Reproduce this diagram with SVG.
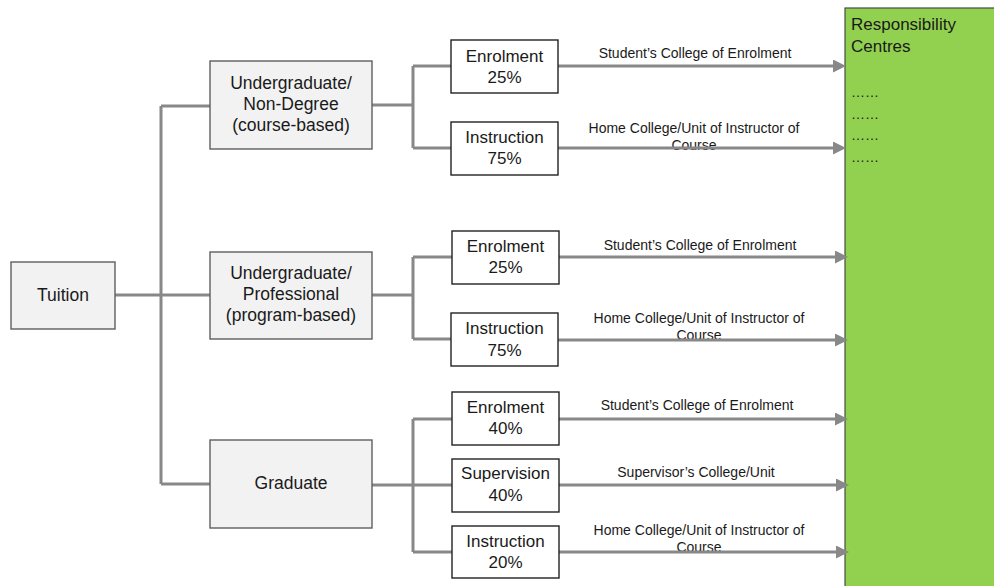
<svg xmlns="http://www.w3.org/2000/svg" width="994" height="586" viewBox="0 0 994 586">
<defs>
<style>
text{font-family:"Liberation Sans",Arial,sans-serif;fill:#1a1a1a}
.t1{font-size:17.5px;text-anchor:middle}
.t2{font-size:17px;text-anchor:middle}
.lbl{font-size:14px;text-anchor:middle}
.rc{font-size:17px}
.dots{font-size:14px}
.grey{fill:#f2f2f2;stroke:#5f5f5f;stroke-width:1.4}
.white{fill:#ffffff;stroke:#222;stroke-width:1.4}
.conn{fill:none;stroke:#888888;stroke-width:3}
.arr{fill:none;stroke:#888888;stroke-width:3;marker-end:url(#ah)}
</style>
<marker id="ah" markerUnits="userSpaceOnUse" markerWidth="13" markerHeight="13" refX="0" refY="6.5" orient="auto">
<path d="M0,0 L13,6.5 L0,13 z" fill="#888888"/>
</marker>
</defs>
<rect width="994" height="586" fill="#ffffff"/>

<g id="responsibility-centres">
<rect x="845" y="8" width="152" height="582" fill="#92d050" stroke="#4a4a4a" stroke-width="1.2"/>
<text class="rc" x="851" y="30">Responsibility</text>
<text class="rc" x="851" y="52">Centres</text>
<text class="dots" x="851" y="97">……</text>
<text class="dots" x="851" y="119">……</text>
<text class="dots" x="851" y="140">……</text>
<text class="dots" x="851" y="162">……</text>
</g>

<g id="labels">
<text class="lbl" x="695" y="58">Student’s College of Enrolment</text>
<text class="lbl" x="694" y="133">Home College/Unit of Instructor of</text>
<text class="lbl" x="694" y="150">Course</text>
<text class="lbl" x="700" y="250">Student’s College of Enrolment</text>
<text class="lbl" x="699" y="323">Home College/Unit of Instructor of</text>
<text class="lbl" x="699" y="340">Course</text>
<text class="lbl" x="697" y="410">Student’s College of Enrolment</text>
<text class="lbl" x="696" y="477">Supervisor’s College/Unit</text>
<text class="lbl" x="699" y="535">Home College/Unit of Instructor of</text>
<text class="lbl" x="699" y="552">Course</text>
</g>

<g id="connectors">
<path class="conn" d="M115,295 H210 M161,106 V484 M161,106 H210 M161,484 H210"/>
<path class="conn" d="M372,105 H413 M413,66 V148 M413,66 H451 M413,148 H451"/>
<path class="conn" d="M372,295 H413 M413,257 V339 M413,257 H452 M413,339 H451"/>
<path class="conn" d="M372,485 H452 M413,419 V552 M413,419 H452 M413,552 H452"/>
<path class="arr" d="M558,66 H833"/>
<path class="arr" d="M558,148 H833"/>
<path class="arr" d="M559,257 H835"/>
<path class="arr" d="M558,340 H835"/>
<path class="arr" d="M559,419 H835"/>
<path class="arr" d="M559,485 H836"/>
<path class="arr" d="M559,552 H836"/>
</g>

<g id="tuition">
<rect class="grey" x="11" y="262" width="104" height="67"/>
<text class="t1" x="63" y="301">Tuition</text>
</g>

<g id="ug-non-degree">
<rect class="grey" x="210" y="61" width="162" height="88"/>
<text class="t1" x="291" y="89">Undergraduate/</text>
<text class="t1" x="291" y="110">Non-Degree</text>
<text class="t1" x="291" y="131">(course-based)</text>
</g>

<g id="ug-professional">
<rect class="grey" x="210" y="252" width="162" height="87"/>
<text class="t1" x="291" y="279">Undergraduate/</text>
<text class="t1" x="291" y="300">Professional</text>
<text class="t1" x="291" y="321">(program-based)</text>
</g>

<g id="graduate">
<rect class="grey" x="210" y="440" width="162" height="88"/>
<text class="t1" x="291" y="489">Graduate</text>
</g>

<g id="ug1-enrolment">
<rect class="white" x="451" y="40" width="107" height="53"/>
<text class="t2" x="504.5" y="62">Enrolment</text>
<text class="t2" x="504.5" y="83">25%</text>
</g>
<g id="ug1-instruction">
<rect class="white" x="451" y="122" width="107" height="53"/>
<text class="t2" x="504.5" y="143">Instruction</text>
<text class="t2" x="504.5" y="164">75%</text>
</g>
<g id="ug2-enrolment">
<rect class="white" x="452" y="231" width="107" height="53"/>
<text class="t2" x="505.5" y="252">Enrolment</text>
<text class="t2" x="505.5" y="273">25%</text>
</g>
<g id="ug2-instruction">
<rect class="white" x="451" y="313" width="107" height="53"/>
<text class="t2" x="504.5" y="334">Instruction</text>
<text class="t2" x="504.5" y="356">75%</text>
</g>
<g id="grad-enrolment">
<rect class="white" x="452" y="392" width="107" height="53"/>
<text class="t2" x="505.5" y="413">Enrolment</text>
<text class="t2" x="505.5" y="434">40%</text>
</g>
<g id="grad-supervision">
<rect class="white" x="452" y="459" width="107" height="53"/>
<text class="t2" x="505.5" y="479">Supervision</text>
<text class="t2" x="505.5" y="501">40%</text>
</g>
<g id="grad-instruction">
<rect class="white" x="452" y="526" width="107" height="52"/>
<text class="t2" x="505.5" y="547">Instruction</text>
<text class="t2" x="505.5" y="568">20%</text>
</g>
</svg>
